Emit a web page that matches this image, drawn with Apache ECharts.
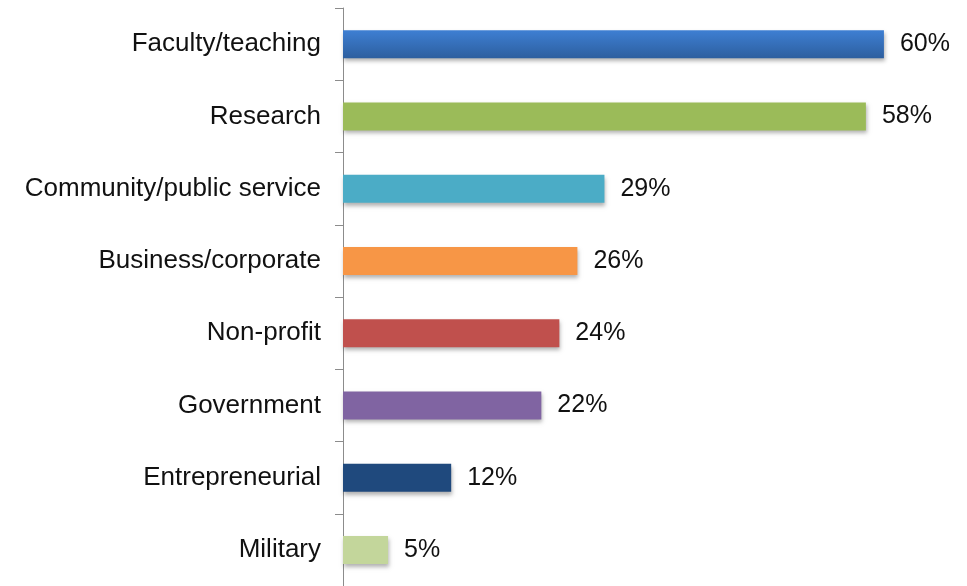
<!DOCTYPE html>
<html>
<head>
<meta charset="utf-8">
<title>Career fields</title>
<script src="https://cdn.jsdelivr.net/npm/echarts@6/dist/echarts.min.js"></script>
<style>
  html, body { margin: 0; padding: 0; background: #fff; }
  #chart { width: 967px; height: 586px; }
</style>
</head>
<body>
<div id="chart"></div>
<script>
const categories = ['Faculty/teaching', 'Research', 'Community/public service', 'Business/corporate', 'Non-profit', 'Government', 'Entrepreneurial', 'Military']
const values = [60, 58, 29, 26, 24, 22, 12, 5]
const barColors = ['#3a74c2', '#9bbb59', '#4bacc6', '#f79646', '#c0504d', '#8064a2', '#1f497d', '#c3d69b']

const font = '"Liberation Sans", Arial, sans-serif'

const chart = echarts.init(document.getElementById('chart'))
const opt = {
  animation: false,
  grid: {
    left: 343,
    right: 38,
    top: 8,
    bottom: -3
  },
  xAxis: {
    type: 'value',
    min: 0,
    max: 65,
    show: false
  },
  yAxis: {
    type: 'category',
    inverse: true,
    data: categories,
    axisLine: { show: true, lineStyle: { color: '#8c8c8c', width: 1 } },
    axisTick: { show: true, length: 8, lineStyle: { color: '#8c8c8c' } },
    axisLabel: { color: '#111', fontSize: 26, fontFamily: font, margin: 22, padding: [4, 0, 0, 0] },
    splitLine: { show: false }
  },
  series: [
    {
      type: 'bar',
      barWidth: 28,
      data: values.map((v, i) => ({
        value: v,
        itemStyle: {
          color: i === 0
            ? new echarts.graphic.LinearGradient(0, 0, 0, 1, [
                { offset: 0, color: '#3e7fd3' },
                { offset: 1, color: '#2d5f9f' }
              ])
            : barColors[i]
        }
      })),
      itemStyle: {
        shadowColor: 'rgba(0,0,0,0.3)',
        shadowBlur: 4,
        shadowOffsetX: 1,
        shadowOffsetY: 3
      },
      label: {
        show: true,
        position: 'right',
        distance: 16,
        color: '#111',
        fontSize: 25,
        fontFamily: font,
        padding: [4, 0, 0, 0],
        formatter: p => p.value + '%'
      }
    }
  ]
}
chart.setOption(opt)
</script>
</body>
</html>
